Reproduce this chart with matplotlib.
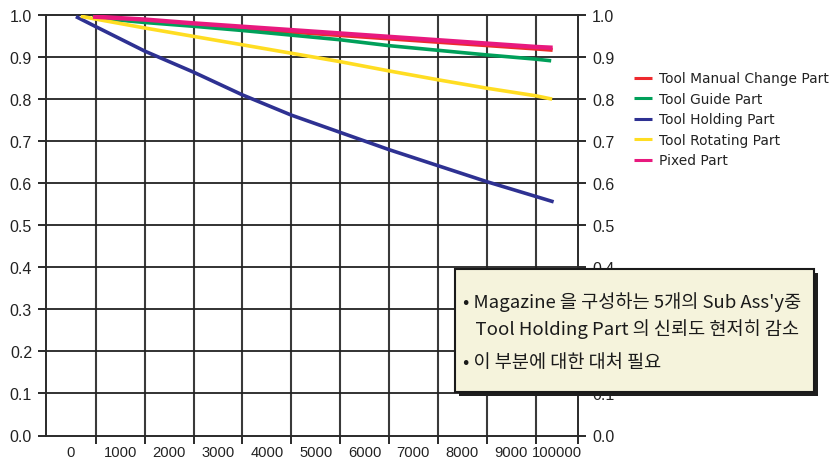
import matplotlib
matplotlib.use("Agg")
import matplotlib.pyplot as plt
from matplotlib.patches import Rectangle
from matplotlib.ticker import FixedLocator, NullFormatter

# Operating time categories shown on the x axis
categories = ['0', '1000', '2000', '3000', '4000', '5000',
              '6000', '7000', '8000', '9000', '100000']
y_ticks = [0.0, 0.1, 0.2, 0.3, 0.4, 0.5, 0.6, 0.7, 0.8, 0.9, 1.0]

# Reliability of each sub-assembly over operating hours
hours_manual = [440, 1500, 2500, 3500, 4500, 5500, 6500, 7500, 8500, 9500, 9850]
rel_manual = [0.993, 0.984, 0.975, 0.967, 0.959, 0.951, 0.943, 0.935, 0.927, 0.919, 0.916]

hours_guide = [420, 1500, 2500, 3500, 4500, 5500, 6500, 7500, 8500, 9500, 9820]
rel_guide = [0.993, 0.981, 0.972, 0.962, 0.951, 0.940, 0.926, 0.915, 0.904, 0.894, 0.890]

hours_holding = [90, 500, 1500, 2500, 3500, 4500, 5500, 6500, 7500, 8500, 9500, 9870]
rel_holding = [0.995, 0.971, 0.913, 0.863, 0.809, 0.761, 0.720, 0.679, 0.641, 0.603, 0.568, 0.555]

hours_rotating = [190, 500, 1500, 2500, 3500, 4500, 5500, 6500, 7500, 8500, 9500, 9840]
rel_rotating = [0.996, 0.989, 0.968, 0.948, 0.928, 0.908, 0.888, 0.866, 0.845, 0.825, 0.807, 0.799]

hours_fixed = [440, 1500, 2500, 3500, 4500, 5500, 6500, 7500, 8500, 9500, 9850]
rel_fixed = [0.995, 0.988, 0.979, 0.971, 0.963, 0.955, 0.947, 0.939, 0.931, 0.923, 0.921]

series = [
    ("Tool Manual Change Part", hours_manual, rel_manual, "#EE2A2E", 3.0),
    ("Tool Guide Part", hours_guide, rel_guide, "#00A05A", 2.6),
    ("Tool Holding Part", hours_holding, rel_holding, "#2E3192", 2.6),
    ("Tool Rotating Part", hours_rotating, rel_rotating, "#FFDD22", 2.6),
    ("Pixed Part", hours_fixed, rel_fixed, "#E8197E", 3.2),
]

note_lines = [
    "• Magazine 을 구성하는 5개의 Sub Ass'y중",
    "   Tool Holding Part 의 신뢰도 현저히 감소",
    "• 이 부분에 대한 대처 필요",
]

W, H = 830, 460
fig = plt.figure(figsize=(W / 100, H / 100), dpi=100)
fig.patch.set_facecolor("white")

ax_l, ax_r, ax_t, ax_b = 46, 578, 15.5, 436.5
ax = fig.add_axes([ax_l / W, 1 - ax_b / H, (ax_r - ax_l) / W, (ax_b - ax_t) / H])

x_min, x_max = -522, 10369
ax.set_xlim(x_min, x_max)
ax.set_ylim(0, 1.0)

grid_col = "#2a2a2a"
for s in ax.spines.values():
    s.set_color(grid_col)
    s.set_linewidth(1.4)

# category boundaries act as vertical grid lines
bounds = [500 + 1000 * i for i in range(len(categories) - 1)]
cell_edges = [x_min] + bounds + [x_max]
centers = [(cell_edges[i] + cell_edges[i + 1]) / 2 for i in range(len(categories))]

ax.xaxis.set_major_locator(FixedLocator(centers))
ax.set_xticklabels(categories)
ax.xaxis.set_minor_locator(FixedLocator(bounds + [x_max]))
ax.xaxis.set_minor_formatter(NullFormatter())
ax.tick_params(axis="x", which="major", length=0, pad=7)
ax.tick_params(axis="x", which="minor", length=6, width=1.4, color=grid_col, direction="out")
for b in bounds:
    ax.axvline(b, color="#3a3a3a", lw=1.5, zorder=1)

ax.set_yticks(y_ticks)
ax.set_yticklabels([f"{v:.1f}" for v in y_ticks])
ax.tick_params(axis="y", which="major", length=6, width=1.4, color=grid_col,
               direction="out", left=True, right=True, labelleft=True, labelright=True, pad=4)
for v in y_ticks[1:-1]:
    ax.axhline(v, color="#222222", lw=1.3, zorder=1)

tick_family = ["Liberation Sans Narrow", "Liberation Sans"]
for lab in ax.get_xticklabels():
    lab.set_fontfamily(tick_family)
    lab.set_fontsize(10.6)
    lab.set_color("#222222")

for tick in ax.yaxis.get_major_ticks():
    for lab in (tick.label1, tick.label2):
        lab.set_fontfamily(tick_family)
        lab.set_fontsize(11.5)
        lab.set_color("#222222")
    # right-hand labels that sit fully behind the note box are left out
    if abs(tick.get_loc() - 0.2) < 1e-6 or abs(tick.get_loc() - 0.3) < 1e-6:
        tick.label2.set_visible(False)

handles = []
for name, xs, ys, col, lw in series:
    h, = ax.plot(xs, ys, color=col, lw=lw, solid_capstyle="butt", zorder=3, label=name)
    handles.append(h)

leg = fig.legend(handles=handles, loc="upper left", bbox_to_anchor=(628 / W, 1 - 67 / H),
                 frameon=False, prop=dict(family="DejaVu Sans", size=9.9),
                 handlelength=1.35, handletextpad=0.5, labelspacing=0.47, borderaxespad=0)
for t in leg.get_texts():
    t.set_color("#222222")
for lh in leg.get_lines():
    lh.set_linewidth(2.2)

# note box with drop shadow
bx0, bx1, by0, by1 = 455, 814, 270, 393
sh = 4
fig.patches.append(Rectangle(((bx0 + sh) / W, 1 - (by1 + sh) / H), (bx1 - bx0) / W, (by1 - by0) / H,
                             transform=fig.transFigure, facecolor="#1e1e1e", edgecolor="none", zorder=5))
fig.patches.append(Rectangle((bx0 / W, 1 - by1 / H), (bx1 - bx0) / W, (by1 - by0) / H,
                             transform=fig.transFigure, facecolor="#F5F3DC", edgecolor="#1a1a1a",
                             lw=1.5, zorder=6))
note_y = [302, 329, 363]
for txt, yy in zip(note_lines, note_y):
    fig.text(463 / W, 1 - yy / H, txt, ha="left", va="center", zorder=7,
             family=["Noto Sans CJK KR", "DejaVu Sans"], fontsize=13.4, color="#1a1a1a")

fig.savefig("out.png", dpi=100)
